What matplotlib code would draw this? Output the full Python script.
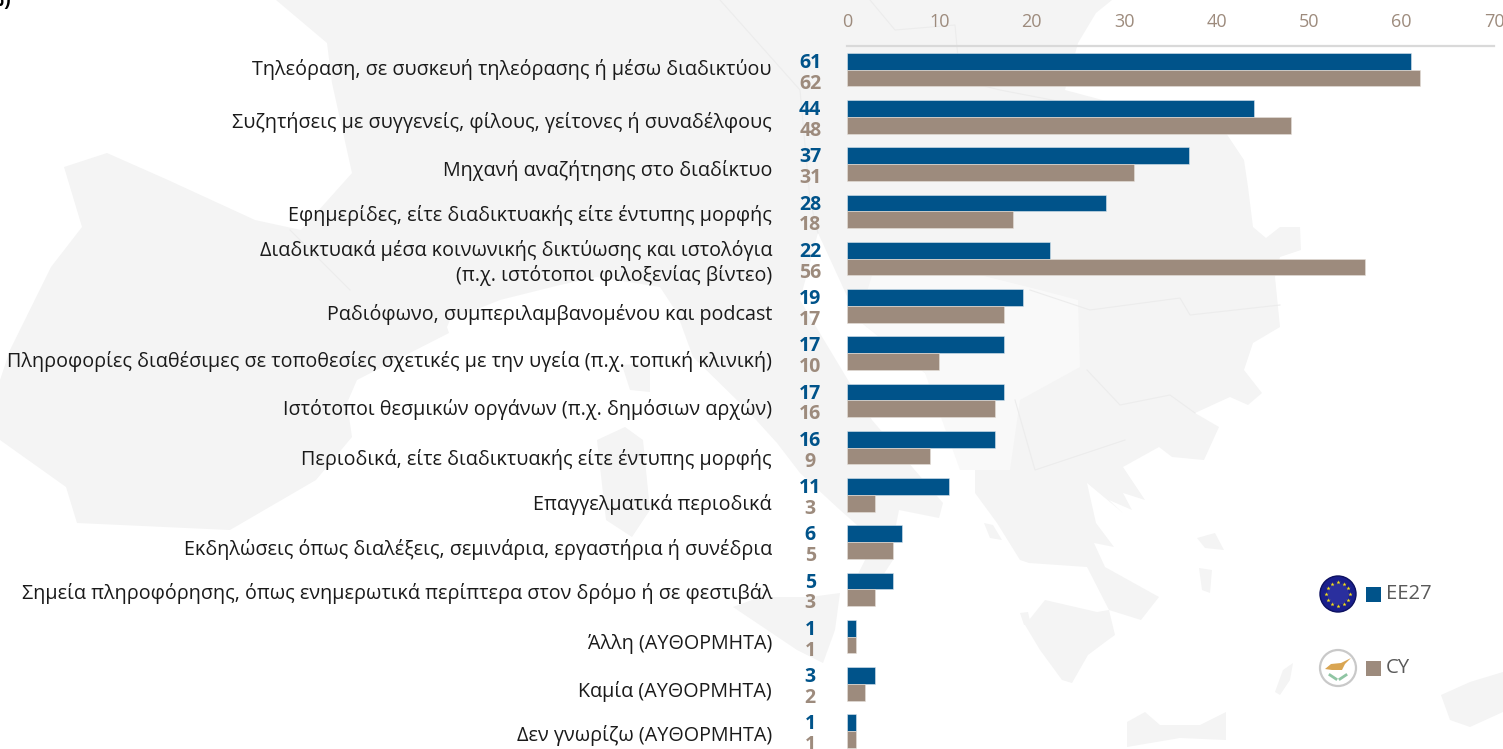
import numpy as np
import matplotlib
matplotlib.use('Agg')
import matplotlib.pyplot as plt
from matplotlib.patches import Circle, Polygon, Rectangle
from matplotlib.transforms import ScaledTranslation

plt.rcParams['font.family'] = ['Open Sans', 'DejaVu Sans']

categories = [
    'Τηλεόραση, σε συσκευή τηλεόρασης ή μέσω διαδικτύου',
    'Συζητήσεις με συγγενείς, φίλους, γείτονες ή συναδέλφους',
    'Μηχανή αναζήτησης στο διαδίκτυο',
    'Εφημερίδες, είτε διαδικτυακής είτε έντυπης μορφής',
    'Διαδικτυακά μέσα κοινωνικής δικτύωσης και ιστολόγια\n(π.χ. ιστότοποι φιλοξενίας βίντεο)',
    'Ραδιόφωνο, συμπεριλαμβανομένου και podcast',
    'Πληροφορίες διαθέσιμες σε τοποθεσίες σχετικές με την υγεία (π.χ. τοπική κλινική)',
    'Ιστότοποι θεσμικών οργάνων (π.χ. δημόσιων αρχών)',
    'Περιοδικά, είτε διαδικτυακής είτε έντυπης μορφής',
    'Επαγγελματικά περιοδικά',
    'Εκδηλώσεις όπως διαλέξεις, σεμινάρια, εργαστήρια ή συνέδρια',
    'Σημεία πληροφόρησης, όπως ενημερωτικά περίπτερα στον δρόμο ή σε φεστιβάλ',
    'Άλλη (ΑΥΘΟΡΜΗΤΑ)',
    'Καμία (ΑΥΘΟΡΜΗΤΑ)',
    'Δεν γνωρίζω (ΑΥΘΟΡΜΗΤΑ)',
]
eu27 = [61, 44, 37, 28, 22, 19, 17, 17, 16, 11, 6, 5, 1, 3, 1]
cy = [62, 48, 31, 18, 56, 17, 10, 16, 9, 3, 5, 3, 1, 2, 1]
xticks = [0, 10, 20, 30, 40, 50, 60, 70]

# the labels in the original are not quite on the row centres (px down)
label_nudge = [-3, 3, 4, 2, 0, 6, 6, 7, 9, 7, 5, 2, 5, 5, 2]

BLUE = '#00538a'
BROWN = '#9d8b7d'
LAND = '#f4f4f4'
LIGHT_LAND = '#f9f9f9'

# background map outline, in picture pixels
mainland = [
    (276, 0), (327, 43), (332, 83), (352, 173), (301, 230), (255, 220), (168, 180), (107, 153),
    (64, 167), (82, 227), (51, 267), (10, 350), (0, 380), (0, 440), (66, 487), (77, 523),
    (230, 530), (316, 480), (352, 437), (347, 403), (357, 380), (449, 333), (447, 327), (450, 320),
    (500, 300), (560, 285), (597, 277), (660, 287), (677, 313), (693, 357), (747, 410), (777, 443),
    (800, 473), (840, 510), (857, 525), (865, 560), (850, 590), (870, 595), (893, 560), (893, 540),
    (899, 510), (939, 518), (943, 503), (872, 420), (800, 300), (818, 233), (858, 320),
    (925, 373), (979, 447), (975, 470), (975, 493), (997, 523), (1020, 560), (1029, 563), (1087, 567),
    (1109, 610), (1097, 612), (1045, 600), (1025, 625), (1040, 650), (1062, 680), (1072, 683), (1088, 655),
    (1108, 640), (1115, 635), (1109, 610), (1141, 620), (1159, 597), (1141, 587), (1105, 567), (1094, 543),
    (1114, 547), (1096, 523), (1087, 483), (1123, 513), (1109, 500), (1132, 510), (1123, 493), (1145, 500),
    (1123, 467), (1159, 447), (1172, 457), (1204, 460), (1219, 427), (1195, 413), (1230, 397), (1248, 405),
    (1262, 393), (1244, 370), (1253, 343), (1280, 327), (1278, 307), (1275, 277), (1280, 257), (1301, 250),
    (1300, 227), (1280, 227), (1266, 238), (1253, 227), (1248, 187), (1244, 160), (1226, 133), (1065, 90),
    (1078, 43), (1096, 13), (1112, 0),
]
balkans = [
    (880, 250), (1040, 290), (1078, 300), (1080, 367), (1020, 400), (1010, 470), (960, 470), (925, 373),
    (858, 320),
]
islands = [
    [(622, 365), (650, 363), (650, 392), (630, 390)],
    [(597, 440), (625, 427), (643, 440), (650, 510), (632, 537), (606, 520)],
    [(733, 607), (760, 597), (810, 597), (840, 593), (835, 630), (823, 663), (797, 650)],
    [(1127, 722), (1145, 712), (1160, 725), (1200, 725), (1226, 712), (1226, 740), (1180, 738), (1127, 747)],
    [(1197, 538), (1215, 533), (1224, 550), (1205, 548)],
    [(1199, 568), (1212, 570), (1210, 593), (1202, 590)],
    [(984, 523), (993, 525), (1002, 540), (990, 538)],
    [(1020, 613), (1028, 612), (1031, 625), (1024, 625)],
    [(1275, 692), (1283, 670), (1293, 663), (1290, 680), (1280, 695)],
    [(1441, 695), (1470, 682), (1503, 672), (1503, 712), (1470, 727), (1450, 720)],
]
borders = [
    [(870, 0), (895, 30), (955, 25), (960, 80), (1000, 90), (1078, 105)],
    [(1030, 290), (1090, 310), (1180, 298), (1190, 315), (1280, 305)],
    [(1087, 370), (1120, 405), (1170, 395), (1195, 413)],
    [(1015, 400), (1035, 470), (1125, 440)],
    [(290, 230), (350, 290)],
    [(720, 0), (800, 90), (810, 200), (818, 233)],
]

# flags, in picture pixels
eu_flag = (1338, 594)
cy_flag = (1338, 668)
flag_r = 18
cyprus_shape = [(1325, 669), (1331, 664), (1341, 663), (1351, 658), (1345, 664), (1342, 670), (1332, 670)]


def main():
    fig = plt.figure(figsize=(15.03, 7.49), dpi=100, facecolor='white')

    # map layer with y going down like the picture
    bg = fig.add_axes([0, 0, 1, 1], zorder=0)
    bg.set_xlim(0, 1503)
    bg.set_ylim(749, 0)
    bg.axis('off')
    bg.add_patch(Polygon(mainland, closed=True, fc=LAND, ec='none'))
    bg.add_patch(Polygon(balkans, closed=True, fc=LIGHT_LAND, ec='none'))
    for isl in islands:
        bg.add_patch(Polygon(isl, closed=True, fc=LAND, ec='none'))
    for line in borders:
        xs, ys = zip(*line)
        bg.plot(xs, ys, color='#ececec', lw=0.8)

    # the chart itself, the last row runs off the bottom of the picture
    ax = fig.add_axes([847 / 1503, -5.75 / 749, 647 / 1503, 708.75 / 749], zorder=1)
    ax.patch.set_alpha(0)
    y = np.arange(len(categories))
    h = 0.355
    ax.barh(y - h / 2, eu27, h, color=BLUE, edgecolor='#dbe6ee', linewidth=0.4)
    ax.barh(y + h / 2, cy, h, color=BROWN, edgecolor='#e6e0da', linewidth=0.4)
    ax.set_xlim(0, 70)
    ax.set_ylim(len(categories) - 0.5, -0.5)

    ax.xaxis.tick_top()
    ax.set_xticks(xticks)
    ax.tick_params(axis='x', length=0, pad=10.5, labelsize=13, labelcolor=BROWN)
    ax.set_yticks(y)
    ax.set_yticklabels(categories, fontsize=14.2, color='#1a1a1a', linespacing=1.25)
    ax.tick_params(axis='y', length=0, pad=54)
    for lab, dy in zip(ax.get_yticklabels(), label_nudge):
        lab.set_transform(lab.get_transform() + ScaledTranslation(0, -dy / 100, fig.dpi_scale_trans))

    for s in ['left', 'right', 'bottom']:
        ax.spines[s].set_visible(False)
    ax.spines['top'].set_color('#d9d9d9')
    ax.spines['top'].set_linewidth(1.6)

    # value labels left of the bars
    for i in y:
        ax.annotate(str(eu27[i]), (0, i), xytext=(-26.5, 4.8), textcoords='offset points', ha='center', va='center',
                    color=BLUE, fontsize=14, fontweight='bold')
        ax.annotate(str(cy[i]), (0, i), xytext=(-26.5, -10), textcoords='offset points', ha='center', va='center',
                    color=BROWN, fontsize=14, fontweight='bold', annotation_clip=False)

    # legend with round flags
    bg.add_patch(Circle(eu_flag, flag_r, fc='#1a1f8c', ec='#0c1060', lw=1))
    bg.add_patch(Circle(eu_flag, flag_r * 0.6, fc='#3a3fb0', ec='none', alpha=0.5))
    ang = np.deg2rad(np.arange(0, 360, 30))
    bg.scatter(eu_flag[0] + 12 * np.cos(ang), eu_flag[1] + 12 * np.sin(ang), s=10, marker='*', color='#f7e017',
               linewidths=0, zorder=3)
    bg.add_patch(Circle(cy_flag, flag_r, fc='white', ec='#c9c9c9', lw=1.6))
    bg.add_patch(Polygon(cyprus_shape, closed=True, fc='#d9a552', ec='none', zorder=3))
    bg.plot([1330, 1336], [675, 679], color='#8fc5a3', lw=2, zorder=3)
    bg.plot([1346, 1340], [675, 679], color='#8fc5a3', lw=2, zorder=3)

    bg.add_patch(Rectangle((1366, 587), 15, 15, fc=BLUE, ec='none'))
    bg.add_patch(Rectangle((1366, 661), 15, 15, fc=BROWN, ec='none'))
    bg.text(1386, 594, 'EE27', fontsize=14.6, color='#595959', va='center', ha='left')
    bg.text(1386, 668, 'CY', fontsize=14.6, color='#595959', va='center', ha='left')

    # cut-off unit marker in the top corner
    bg.text(11, 1, '(%)', fontsize=14, fontweight='bold', color='black', ha='right', va='center')

    fig.savefig('out.png', dpi=100)
    plt.close(fig)


if __name__ == "__main__":
    main()
